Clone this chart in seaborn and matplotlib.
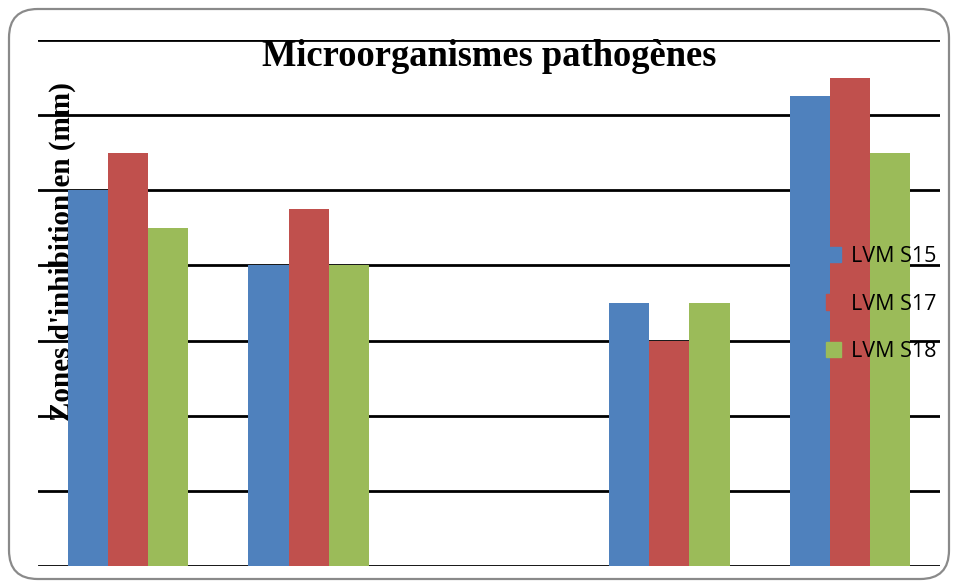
import matplotlib
matplotlib.use("Agg")
import matplotlib.pyplot as plt
import numpy as np
import pandas as pd
import seaborn as sns
from matplotlib.patches import FancyBboxPatch

# values (grid units); third group has no bars
groups = ["G1", "G2", "G3", "G4", "G5"]
series = ["LVM S15", "LVM S17", "LVM S18"]
s15 = [5.0, 4.0, np.nan, 3.5, 6.25]
s17 = [5.5, 4.75, np.nan, 3.0, 6.5]
s18 = [4.5, 4.0, np.nan, 3.5, 5.5]
colors = ["#4F81BD", "#C0504D", "#9BBB59"]

df = pd.DataFrame({
    "groupe": groups * 3,
    "serie": [s for s in series for _ in groups],
    "valeur": s15 + s17 + s18,
})

sns.set_style("white")
fig = plt.figure(figsize=(9.58, 5.88), dpi=100)
ax = fig.add_axes([38 / 958, 22 / 588, 902 / 958, 526 / 588])

sns.barplot(data=df, x="groupe", y="valeur", hue="serie", order=groups,
            hue_order=series, palette=colors, width=2 / 3, gap=0,
            saturation=1, errorbar=None, ax=ax, zorder=3, legend=False,
            linewidth=0)

ax.set_ylim(0, 7)
ax.set_xlim(-0.5, 4.5)
ax.set_yticks(range(0, 8))
ax.yaxis.grid(True, color="black", linewidth=2, zorder=1)
ax.set_axisbelow(True)
ax.set_yticklabels([])
ax.set_xticks([])
ax.set_xlabel("")
ax.set_ylabel("")
sns.despine(ax=ax, left=True, bottom=True, top=True, right=True)
ax.tick_params(length=0)

handles = [plt.Rectangle((0, 0), 1, 1, color=c) for c in colors]
fig.legend(handles, series, loc="center left", bbox_to_anchor=(807 / 958, 1 - 304 / 588),
           frameon=False, prop={"family": "Open Sans", "size": 15.5}, labelcolor="black",
           handlelength=0.7, handleheight=0.7, handletextpad=0.45, labelspacing=1.25)

fig.text(489 / 958, 1 - 57 / 588, "Microorganismes pathogènes", ha="center", va="center",
         fontsize=26.3, fontweight="bold", family="Liberation Serif", color="black")
# y label sits under the gridlines, as in the original
ax.text(62 / 958, 1 - 252 / 588, "Zones d'inhibition en (mm)", ha="center", va="center",
        rotation=90, fontsize=21, fontweight="bold", family="Liberation Serif", color="black",
        transform=fig.transFigure, zorder=0.5, clip_on=False)

border = FancyBboxPatch((9 / 958, 9 / 588), 940 / 958, 570 / 588,
                        boxstyle="round,pad=0,rounding_size=0.03",
                        transform=fig.transFigure, facecolor="none",
                        edgecolor="#8a8a8a", linewidth=1.6, mutation_aspect=958 / 588)
fig.patches.append(border)

fig.savefig("out.png", dpi=100)
